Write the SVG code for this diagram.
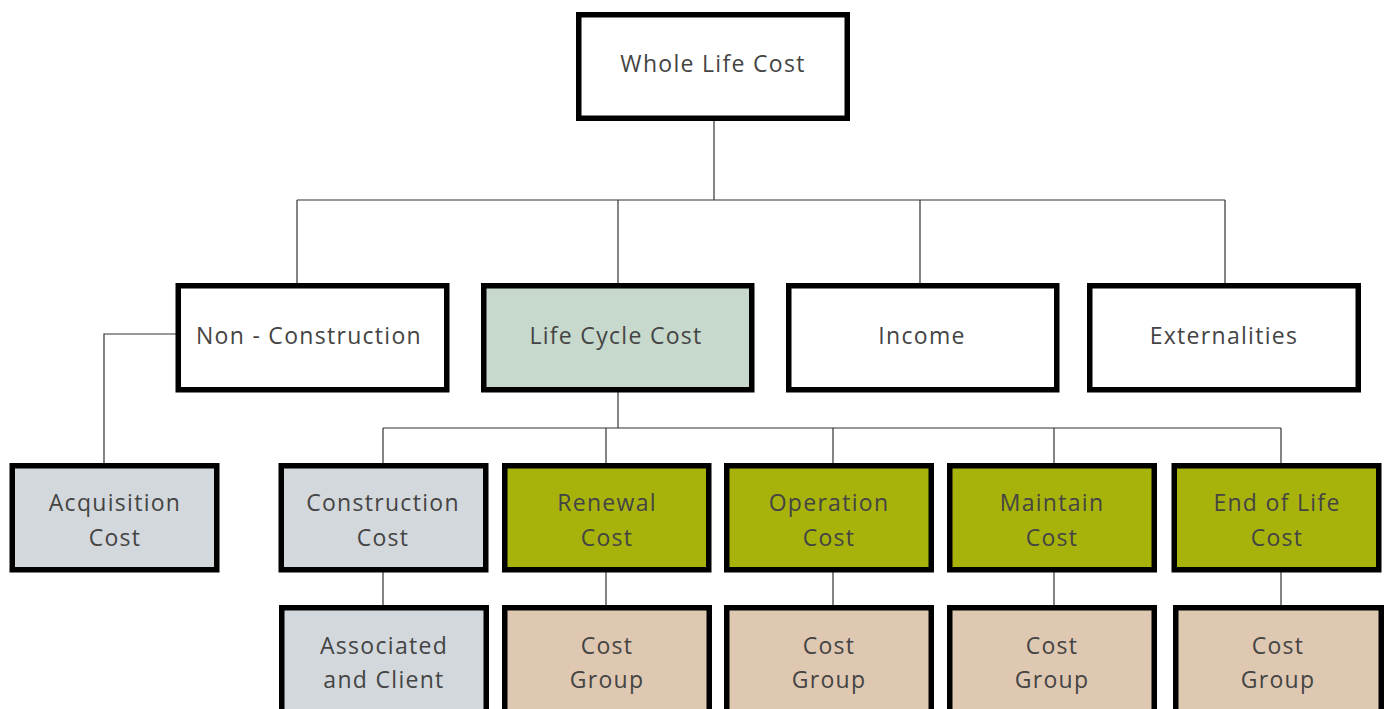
<svg xmlns="http://www.w3.org/2000/svg" width="1386" height="709" viewBox="0 0 1386 709">
<style>
.box{stroke:#000;stroke-width:5.5}
.w{fill:#fff}.g{fill:#d3d8dc}.l{fill:#c7d8cc}.o{fill:#a7b30b}.t{fill:#dfc8b1}
text{font-family:"Open Sans","Liberation Sans",sans-serif;font-size:23px;fill:#444;text-anchor:middle;letter-spacing:1.3px}
.c{fill:none;stroke:#333;stroke-width:1.2}
</style>
<rect width="1386" height="709" fill="#fff"/>
<g id="connectors">
<path class="c" d="M714 121V200M297 200H1225M297 200V283M618 200V283M920 200V283M1225 200V283"/>
<path class="c" d="M176 334H104V463"/>
<path class="c" d="M618 392V428M383 428H1281M383 428V463M606 428V463M833 428V463M1054 428V463M1281 428V463"/>
<path class="c" d="M383 572V605M606 572V605M833 572V605M1054 572V605M1281 572V605"/>
</g>
<g id="whole"><rect class="box w" x="578.75" y="14.75" width="268.5" height="103.5"/><text x="713" y="72">Whole Life Cost</text></g>
<g id="nonconstruction"><rect class="box w" x="178.25" y="285.75" width="268.5" height="104"/><text x="309" y="344">Non - Construction</text></g>
<g id="lcc"><rect class="box l" x="483.75" y="285.75" width="268" height="104"/><text x="616" y="344">Life Cycle Cost</text></g>
<g id="income"><rect class="box w" x="788.75" y="285.75" width="268" height="104"/><text x="922" y="344">Income</text></g>
<g id="externalities"><rect class="box w" x="1089.75" y="285.75" width="268.5" height="104"/><text x="1224" y="344">Externalities</text></g>
<g id="acquisition"><rect class="box g" x="12.25" y="465.75" width="204.5" height="104"/><text x="115" y="511">Acquisition</text><text x="115" y="546">Cost</text></g>
<g id="construction"><rect class="box g" x="281.25" y="465.75" width="204.5" height="104"/><text x="383" y="511">Construction</text><text x="383" y="546">Cost</text></g>
<g id="renewal"><rect class="box o" x="504.75" y="465.75" width="204" height="104"/><text x="607" y="511">Renewal</text><text x="607" y="546">Cost</text></g>
<g id="operation"><rect class="box o" x="726.75" y="465.75" width="204.5" height="104"/><text x="829" y="511">Operation</text><text x="829" y="546">Cost</text></g>
<g id="maintain"><rect class="box o" x="949.75" y="465.75" width="204.5" height="104"/><text x="1052" y="511">Maintain</text><text x="1052" y="546">Cost</text></g>
<g id="endoflife"><rect class="box o" x="1174.25" y="465.75" width="204.5" height="104"/><text x="1277" y="511">End of Life</text><text x="1277" y="546">Cost</text></g>
<g id="associated"><rect class="box g" x="281.75" y="607.75" width="204.5" height="120"/><text x="384" y="654">Associated</text><text x="384" y="688">and Client</text></g>
<g id="cg1"><rect class="box t" x="504.75" y="607.75" width="204.5" height="120"/><text x="607" y="654">Cost</text><text x="607" y="688">Group</text></g>
<g id="cg2"><rect class="box t" x="726.75" y="607.75" width="204.5" height="120"/><text x="829" y="654">Cost</text><text x="829" y="688">Group</text></g>
<g id="cg3"><rect class="box t" x="949.75" y="607.75" width="204.5" height="120"/><text x="1052" y="654">Cost</text><text x="1052" y="688">Group</text></g>
<g id="cg4"><rect class="box t" x="1175.75" y="607.75" width="205.5" height="120"/><text x="1278" y="654">Cost</text><text x="1278" y="688">Group</text></g>
</svg>
